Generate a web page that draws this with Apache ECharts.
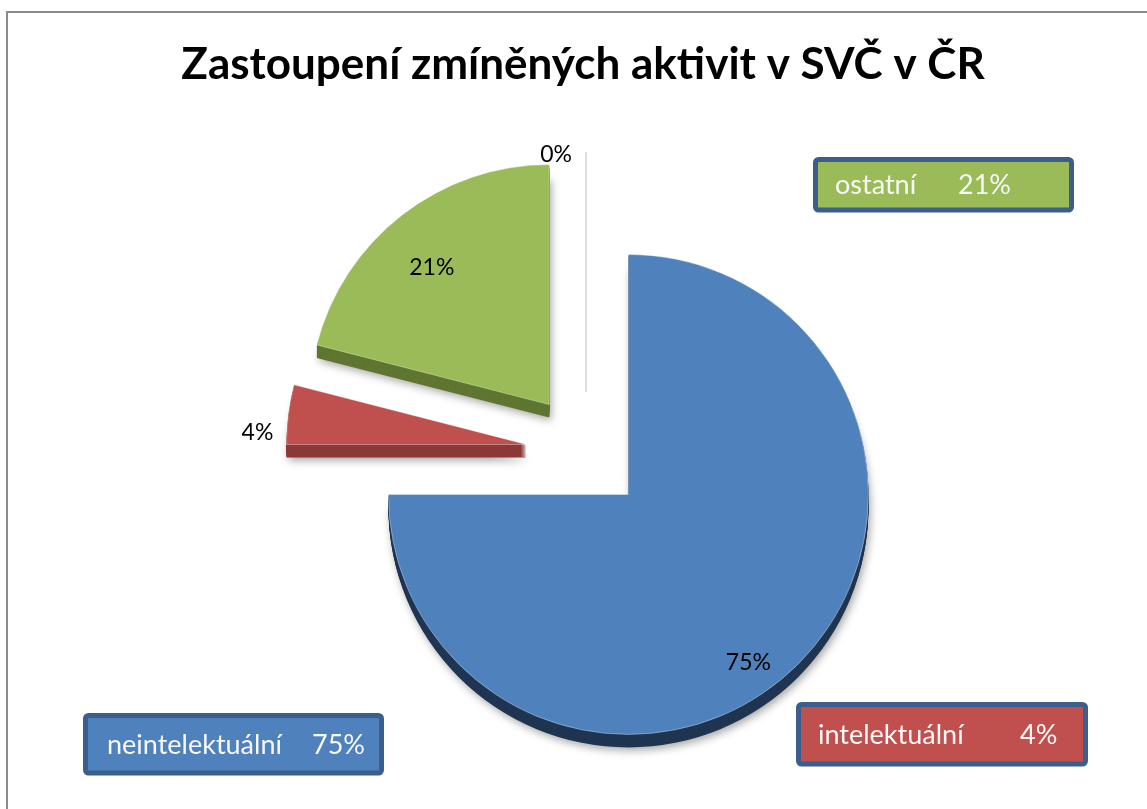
<!DOCTYPE html>
<html><head><meta charset="utf-8">
<script src="https://cdn.jsdelivr.net/npm/echarts@6/dist/echarts.min.js"></script>
<style>html,body{margin:0;padding:0;background:#fff}#c{width:1147px;height:809px}</style>
</head><body><div id="c"></div>
<script>
// ---- data ----
const titleText = 'Zastoupení zmíněných aktivit v SVČ v ČR';
const categories = ['neintelektuální', 'intelektuální', 'ostatní', ''];
const values = [75, 4, 21, 0];
const topColors = ['#4f81bd', '#c0504d', '#9bbb59', '#4bacc6'];
const sideColors = ['#1f3552', '#8c3836', '#5f7631', 'rgba(0,0,0,0)'];

const pct = v => v + '%';

const labelPos = ['inside', 'outside', 'inside', 'outside'];
const labelShift = [[33, 81], [-10, 18], [-42, -40], [-9, 3]];

const CENTER = [586, 452];
const R = 240;
const OFFSET = 60;
const DEPTH = 13;

const topData = categories.map((n, i) => ({
  name: n, value: values[i], selected: true,
  itemStyle: {
    color: topColors[i],
    borderWidth: 1,
    borderColor: values[i] === 0 ? '#d4d4d4' : 'rgba(255,255,255,0.35)'
  },
  label: { position: labelPos[i] }
}));
const sideData = categories.map((n, i) => ({
  name: n, value: values[i], selected: true,
  itemStyle: { color: sideColors[i], borderWidth: 0 }
}));

function makeLegend(name, L, T, W, H, NS, VS) {
  const pl = NS - L - 5, pr = 10, nameW = VS - NS;
  const valW = W - pl - 5 - nameW - pr;
  const pv = (H - 30) / 2;
  const idx = categories.indexOf(name);
  return {
    data: [name], left: L, top: T, orient: 'horizontal',
    padding: [pv, pr, pv, pl],
    itemWidth: 0, itemHeight: 30, icon: 'none', selectedMode: false,
    backgroundColor: topColors[idx], borderColor: '#3b5e8c', borderWidth: 5, borderRadius: 3,
    formatter: () => '{n|' + name + '}{v|' + pct(values[idx]) + '}',
    textStyle: {
      color: '#fff', fontFamily: 'Lato', fontSize: 27,
      rich: {
        n: { width: nameW, color: '#f8f8f8', fontFamily: 'Lato', fontSize: 27, lineHeight: 30 },
        v: { width: valW, color: '#f8f8f8', fontFamily: 'Lato', fontSize: 27, lineHeight: 30 }
      }
    }
  };
}

// extruded side: stacked copies of the pie, each shifted down by one more pixel
const sideSeries = [];
for (let d = DEPTH; d >= 1; d--) {
  sideSeries.push({
    type: 'pie', name: 'side' + d, center: [CENTER[0], CENTER[1] + d], radius: R,
    startAngle: 90, clockwise: true, selectedMode: 'multiple', selectedOffset: OFFSET,
    silent: true, label: { show: false }, labelLine: { show: false },
    emphasis: { disabled: true },
    itemStyle: d === DEPTH
      ? { shadowBlur: 8, shadowColor: 'rgba(0,0,0,0.35)', shadowOffsetX: 2, shadowOffsetY: 3 }
      : {},
    data: sideData, z: 1
  });
}

const chart = echarts.init(document.getElementById('c'), null, { renderer: 'canvas' });
chart.setOption({
  animation: false,
  backgroundColor: '#fff',
  title: {
    text: titleText, left: 578, top: 38, textAlign: 'center',
    textStyle: { fontFamily: 'Lato', fontWeight: 'bold', fontSize: 44, color: '#000' }
  },
  graphic: [{
    type: 'rect', shape: { x: 7, y: 12, width: 1300, height: 900 },
    style: { fill: 'none', stroke: '#8a8a8a', lineWidth: 2 }, silent: true, z: -10
  }],
  legend: [
    makeLegend('ostatní', 815.5, 159.5, 256, 52, 835, 958),
    makeLegend('intelektuální', 798.5, 704.5, 287, 61, 818, 1020),
    makeLegend('neintelektuální', 85.5, 715.5, 296, 59, 107, 312)
  ],
  series: sideSeries.concat([
    {
      type: 'pie', name: 'top', center: CENTER, radius: R,
      startAngle: 90, clockwise: true, selectedMode: 'multiple', selectedOffset: OFFSET,
      avoidLabelOverlap: false, silent: true, emphasis: { disabled: true },
      label: {
        show: true, formatter: p => pct(p.value),
        fontFamily: 'Lato', fontSize: 23, color: '#000', distanceToLabelLine: 5
      },
      labelLine: { show: false, length: 0, length2: 0 },
      labelLayout: p => ({ dx: labelShift[p.dataIndex][0], dy: labelShift[p.dataIndex][1] }),
      data: topData, z: 2
    }
  ])
});
</script></body></html>
